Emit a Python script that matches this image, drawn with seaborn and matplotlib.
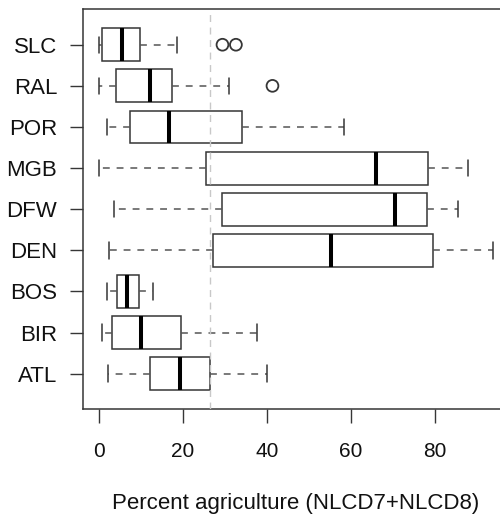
import numpy as np
import pandas as pd
import matplotlib
matplotlib.use("Agg")
import matplotlib.pyplot as plt
import seaborn as sns

cities = ['SLC', 'RAL', 'POR', 'MGB', 'DFW', 'DEN', 'BOS', 'BIR', 'ATL']
lower_whisker = [0.0, 0.1, 2.0, 0.0, 3.5, 2.3, 2.0, 0.8, 2.1]
q1 = [0.8, 4.0, 7.3, 25.5, 29.4, 27.1, 4.2, 3.0, 12.2]
median = [5.5, 12.1, 16.6, 65.9, 70.5, 55.2, 6.75, 9.9, 19.4]
q3 = [9.7, 17.3, 34.1, 78.3, 78.0, 79.4, 9.6, 19.5, 26.4]
upper_whisker = [18.5, 31.0, 58.4, 87.8, 85.4, 93.9, 12.8, 37.5, 39.9]
outlier_city = ['SLC', 'SLC', 'RAL']
outlier_value = [29.4, 32.6, 41.3]
ref_line = 26.4
x_ticks = [0, 20, 40, 60, 80]
x_label = 'Percent agriculture (NLCD7+NLCD8)'

rows = []
for c, a, b, m, d, e in zip(cities, lower_whisker, q1, median, q3, upper_whisker):
    for v in (a, b, m, d, e):
        rows.append({'city': c, 'value': v})
df = pd.DataFrame(rows)
out_df = pd.DataFrame({'city': outlier_city, 'value': outlier_value})

sns.set_style('ticks')
plt.rcParams['font.family'] = ['Liberation Sans', 'DejaVu Sans']

fig = plt.figure(figsize=(5.0, 5.15), dpi=100)
ax = fig.add_axes([0.166, 0.2058, 0.852, 0.776])

edge = '#363636'
sns.boxplot(data=df, x='value', y='city', order=cities, orient='h',
            whis=(0, 100), width=0.8, color='white', saturation=1,
            linecolor=edge, linewidth=1.1, fliersize=0, ax=ax,
            whiskerprops=dict(linestyle=(0, (4.5, 4.5)), color='#555555', linewidth=1.1),
            capprops=dict(color=edge, linewidth=1.1),
            medianprops=dict(color='black', linewidth=2.9),
            boxprops=dict(edgecolor=edge, facecolor='white', linewidth=1.1))

n_before = len(ax.collections)
sns.stripplot(data=out_df, x='value', y='city', order=cities, orient='h',
              jitter=False, size=8.5, color=edge, ax=ax, zorder=5)
for coll in ax.collections[n_before:]:
    coll.set_facecolor('none')
    coll.set_edgecolor(edge)
    coll.set_linewidth(1.3)

ax.axvline(ref_line, color='#c8c8c8', linestyle=(0, (5, 4)), linewidth=1.0, zorder=6)

ax.set_xlim(-3.8, 97.6)
ax.set_ylim(8.86, -0.86)
ax.set_xticks(x_ticks)
ax.set_xticklabels([str(t) for t in x_ticks], fontsize=15)
ax.set_yticks(range(len(cities)))
ax.set_yticklabels(cities, fontsize=16)
ax.set_ylabel('')
ax.set_xlabel(x_label, fontsize=16, labelpad=23, color='#111111')
ax.tick_params(axis='x', direction='out', length=10, width=1, color=edge, pad=14, labelcolor='#111111')
ax.tick_params(axis='y', direction='out', length=9.5, width=1, color=edge, pad=9, labelcolor='#111111')
for s in ax.spines.values():
    s.set_visible(True)
    s.set_color(edge)
    s.set_linewidth(1.1)

fig.savefig('out.png', dpi=100, facecolor='white')
